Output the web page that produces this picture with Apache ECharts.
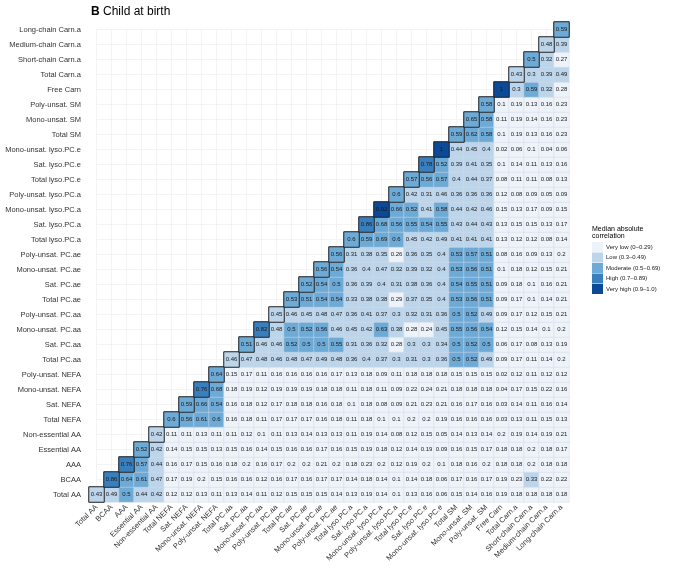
<!DOCTYPE html>
<html>
<head>
<meta charset="utf-8">
<script src="https://cdn.jsdelivr.net/npm/echarts@6/dist/echarts.min.js"></script>
<style>
  html, body { margin: 0; padding: 0; background: #fff; }
  #chart { width: 677px; height: 573px; }
</style>
</head>
<body>
<div id="chart"></div>
<script>
// categories, bottom to top on y and left to right on x
const labels = ['Total AA', 'BCAA', 'AAA', 'Essential AA', 'Non-essential AA',
  'Total NEFA', 'Sat. NEFA', 'Mono-unsat. NEFA', 'Poly-unsat. NEFA',
  'Total PC.aa', 'Sat. PC.aa', 'Mono-unsat. PC.aa', 'Poly-unsat. PC.aa',
  'Total PC.ae', 'Sat. PC.ae', 'Mono-unsat. PC.ae', 'Poly-unsat. PC.ae',
  'Total lyso.PC.a', 'Sat. lyso.PC.a', 'Mono-unsat. lyso.PC.a', 'Poly-unsat. lyso.PC.a',
  'Total lyso.PC.e', 'Sat. lyso.PC.e', 'Mono-unsat. lyso.PC.e',
  'Total SM', 'Mono-unsat. SM', 'Poly-unsat. SM', 'Free Carn',
  'Total Carn.a', 'Short-chain Carn.a', 'Medium-chain Carn.a', 'Long-chain Carn.a']

// each row starts at the diagonal (col = row) and runs to the last column
const corrRows = [
  [0.43, 0.49, 0.5, 0.44, 0.42, 0.12, 0.12, 0.13, 0.11, 0.13, 0.14, 0.11, 0.12, 0.15, 0.15, 0.15, 0.14, 0.13, 0.19, 0.14, 0.1, 0.13, 0.16, 0.06, 0.15, 0.14, 0.16, 0.19, 0.18, 0.18, 0.18, 0.18],
  [0.86, 0.64, 0.61, 0.47, 0.17, 0.19, 0.2, 0.15, 0.16, 0.16, 0.12, 0.16, 0.17, 0.16, 0.17, 0.17, 0.14, 0.18, 0.14, 0.1, 0.14, 0.18, 0.06, 0.17, 0.16, 0.17, 0.19, 0.23, 0.33, 0.22, 0.22],
  [0.76, 0.57, 0.44, 0.16, 0.17, 0.15, 0.16, 0.18, 0.2, 0.16, 0.17, 0.2, 0.2, 0.21, 0.2, 0.18, 0.23, 0.2, 0.12, 0.19, 0.2, 0.1, 0.18, 0.16, 0.2, 0.18, 0.18, 0.2, 0.18, 0.18],
  [0.52, 0.42, 0.14, 0.15, 0.15, 0.13, 0.15, 0.16, 0.14, 0.15, 0.16, 0.16, 0.17, 0.16, 0.15, 0.19, 0.18, 0.12, 0.14, 0.19, 0.09, 0.16, 0.15, 0.17, 0.18, 0.18, 0.2, 0.18, 0.17],
  [0.42, 0.11, 0.11, 0.13, 0.11, 0.11, 0.12, 0.1, 0.11, 0.13, 0.14, 0.13, 0.13, 0.11, 0.19, 0.14, 0.08, 0.12, 0.15, 0.05, 0.14, 0.13, 0.14, 0.2, 0.19, 0.14, 0.19, 0.21],
  [0.6, 0.56, 0.61, 0.6, 0.16, 0.18, 0.11, 0.17, 0.17, 0.17, 0.16, 0.18, 0.11, 0.18, 0.1, 0.1, 0.2, 0.2, 0.19, 0.16, 0.16, 0.16, 0.03, 0.13, 0.11, 0.15, 0.13],
  [0.59, 0.66, 0.54, 0.16, 0.18, 0.12, 0.17, 0.18, 0.18, 0.16, 0.18, 0.1, 0.18, 0.08, 0.09, 0.21, 0.23, 0.21, 0.16, 0.17, 0.16, 0.03, 0.14, 0.11, 0.16, 0.14],
  [0.76, 0.68, 0.18, 0.19, 0.12, 0.19, 0.19, 0.19, 0.18, 0.18, 0.11, 0.18, 0.11, 0.09, 0.22, 0.24, 0.21, 0.18, 0.18, 0.18, 0.04, 0.17, 0.15, 0.22, 0.16],
  [0.64, 0.15, 0.17, 0.11, 0.16, 0.16, 0.16, 0.16, 0.17, 0.13, 0.18, 0.09, 0.11, 0.18, 0.18, 0.18, 0.15, 0.15, 0.15, 0.02, 0.12, 0.11, 0.12, 0.12],
  [0.46, 0.47, 0.48, 0.46, 0.48, 0.47, 0.49, 0.48, 0.36, 0.4, 0.37, 0.3, 0.31, 0.3, 0.36, 0.5, 0.52, 0.49, 0.09, 0.17, 0.11, 0.14, 0.2],
  [0.51, 0.46, 0.46, 0.52, 0.5, 0.5, 0.55, 0.31, 0.36, 0.32, 0.28, 0.3, 0.3, 0.34, 0.5, 0.52, 0.5, 0.06, 0.17, 0.08, 0.13, 0.19],
  [0.82, 0.48, 0.5, 0.52, 0.56, 0.46, 0.45, 0.42, 0.63, 0.38, 0.28, 0.24, 0.45, 0.55, 0.56, 0.54, 0.12, 0.15, 0.14, 0.1, 0.2],
  [0.45, 0.46, 0.45, 0.48, 0.47, 0.36, 0.41, 0.37, 0.3, 0.32, 0.31, 0.36, 0.5, 0.52, 0.49, 0.09, 0.17, 0.12, 0.15, 0.21],
  [0.53, 0.51, 0.54, 0.54, 0.33, 0.38, 0.38, 0.29, 0.37, 0.35, 0.4, 0.53, 0.56, 0.51, 0.09, 0.17, 0.1, 0.14, 0.21],
  [0.52, 0.54, 0.5, 0.36, 0.39, 0.4, 0.31, 0.38, 0.36, 0.4, 0.54, 0.55, 0.51, 0.09, 0.18, 0.1, 0.16, 0.21],
  [0.56, 0.54, 0.36, 0.4, 0.47, 0.32, 0.39, 0.32, 0.4, 0.53, 0.56, 0.51, 0.1, 0.18, 0.12, 0.15, 0.21],
  [0.56, 0.31, 0.38, 0.35, 0.26, 0.36, 0.35, 0.4, 0.53, 0.57, 0.51, 0.08, 0.16, 0.09, 0.13, 0.2],
  [0.6, 0.59, 0.69, 0.6, 0.45, 0.42, 0.49, 0.41, 0.41, 0.41, 0.13, 0.12, 0.12, 0.08, 0.14],
  [0.86, 0.68, 0.56, 0.55, 0.54, 0.55, 0.43, 0.44, 0.43, 0.13, 0.15, 0.15, 0.13, 0.17],
  [0.92, 0.66, 0.52, 0.41, 0.58, 0.44, 0.42, 0.46, 0.15, 0.13, 0.17, 0.09, 0.15],
  [0.6, 0.42, 0.31, 0.46, 0.36, 0.36, 0.36, 0.12, 0.08, 0.09, 0.05, 0.09],
  [0.57, 0.56, 0.57, 0.4, 0.44, 0.37, 0.08, 0.11, 0.11, 0.08, 0.13],
  [0.78, 0.52, 0.39, 0.41, 0.35, 0.1, 0.14, 0.11, 0.13, 0.16],
  [1, 0.44, 0.45, 0.4, 0.02, 0.06, 0.1, 0.04, 0.06],
  [0.59, 0.62, 0.58, 0.1, 0.19, 0.13, 0.16, 0.23],
  [0.65, 0.58, 0.11, 0.19, 0.14, 0.16, 0.23],
  [0.58, 0.1, 0.19, 0.13, 0.16, 0.23],
  [1, 0.3, 0.59, 0.32, 0.28],
  [0.43, 0.3, 0.39, 0.49],
  [0.5, 0.32, 0.27],
  [0.48, 0.39],
  [0.59]
]

const bins = ['Very low (0\u20130.29)', 'Low (0.3\u20130.49)', 'Moderate (0.5\u20130.69)',
  'High (0.7\u20130.89)', 'Very high (0.9\u20131.0)']
const binColors = ['#eef3fa', '#bcd5ea', '#6eaad6', '#3a7fbd', '#0c4a97']

const FONT = 'Liberation Sans'

const cells = []
const diag = []
corrRows.forEach((row, r) => {
  row.forEach((v, k) => {
    const c = r + k
    cells.push([c, r, v])
    if (k === 0) diag.push([c, r, v])
  })
})

const chart = echarts.init(document.getElementById('chart'))

const cellLabel = {
  show: true,
  fontFamily: FONT,
  fontSize: 6,
  color: '#1a1a1a',
  formatter: p => String(p.value[2])
}

const option = {
  animation: false,
  title: {
    text: '{b|B} Child at birth',
    left: 86,
    top: 1,
    textStyle: {
      fontFamily: FONT,
      fontSize: 12,
      fontWeight: 'normal',
      color: '#000',
      rich: { b: { fontFamily: FONT, fontSize: 12, fontWeight: 'bold', color: '#000' } }
    }
  },
  graphic: [{
    type: 'text',
    left: 592,
    top: 225,
    style: {
      text: 'Median absolute\ncorrelation',
      font: '7px "Liberation Sans"',
      lineHeight: 7.5,
      fill: '#000'
    }
  }],
  grid: [
    { left: 89, right: 108, top: 22, bottom: 71 },
    // grid lines sit at the cell centres, so this grid is inset by half a cell
    { left: 96.5, right: 115.5, top: 29.5, bottom: 78.5 }
  ],
  xAxis: [
    {
      type: 'category',
      data: labels,
      gridIndex: 0,
      axisLine: { show: false },
      axisTick: { show: false },
      splitLine: { show: false },
      axisLabel: {
        rotate: 45,
        interval: 0,
        margin: 4,
        fontFamily: FONT,
        fontSize: 7.5,
        color: '#333'
      }
    },
    {
      type: 'value',
      gridIndex: 1,
      min: 0,
      max: 31,
      interval: 1,
      axisLine: { show: false },
      axisTick: { show: false },
      axisLabel: { show: false },
      splitLine: { lineStyle: { color: '#ececec', width: 0.6 } }
    }
  ],
  yAxis: [
    {
      type: 'category',
      data: labels,
      gridIndex: 0,
      axisLine: { show: false },
      axisTick: { show: false },
      splitLine: { show: false },
      axisLabel: {
        interval: 0,
        margin: 8,
        fontFamily: FONT,
        fontSize: 7.5,
        color: '#333'
      }
    },
    {
      type: 'value',
      gridIndex: 1,
      min: 0,
      max: 31,
      interval: 1,
      axisLine: { show: false },
      axisTick: { show: false },
      axisLabel: { show: false },
      splitLine: { lineStyle: { color: '#ececec', width: 0.6 } }
    }
  ],
  visualMap: {
    type: 'piecewise',
    seriesIndex: [0, 1],
    dimension: 2,
    orient: 'vertical',
    inverse: true,
    align: 'left',
    left: 592,
    top: 242,
    padding: 0,
    itemWidth: 11,
    itemHeight: 10,
    itemGap: 0.5,
    itemSymbol: 'rect',
    textGap: 3,
    selectedMode: false,
    textStyle: { fontFamily: FONT, fontSize: 6, color: '#1a1a1a' },
    pieces: [
      { gte: 0, lt: 0.295, label: bins[0], color: binColors[0] },
      { gte: 0.295, lt: 0.495, label: bins[1], color: binColors[1] },
      { gte: 0.495, lt: 0.695, label: bins[2], color: binColors[2] },
      { gte: 0.695, lt: 0.895, label: bins[3], color: binColors[3] },
      { gte: 0.895, lte: 1, label: bins[4], color: binColors[4] }
    ]
  },
  series: [
    {
      type: 'heatmap',
      xAxisIndex: 0,
      yAxisIndex: 0,
      data: cells,
      label: cellLabel,
      itemStyle: { borderColor: '#d3dbe6', borderWidth: 0.5 },
      emphasis: { disabled: true }
    },
    {
      // diagonal cells get the dark outline
      type: 'heatmap',
      xAxisIndex: 0,
      yAxisIndex: 0,
      data: diag,
      label: cellLabel,
      itemStyle: { borderColor: '#222', borderWidth: 1 },
      emphasis: { disabled: true },
      z: 3
    }
  ]
}

chart.setOption(option)
</script>
</body>
</html>
